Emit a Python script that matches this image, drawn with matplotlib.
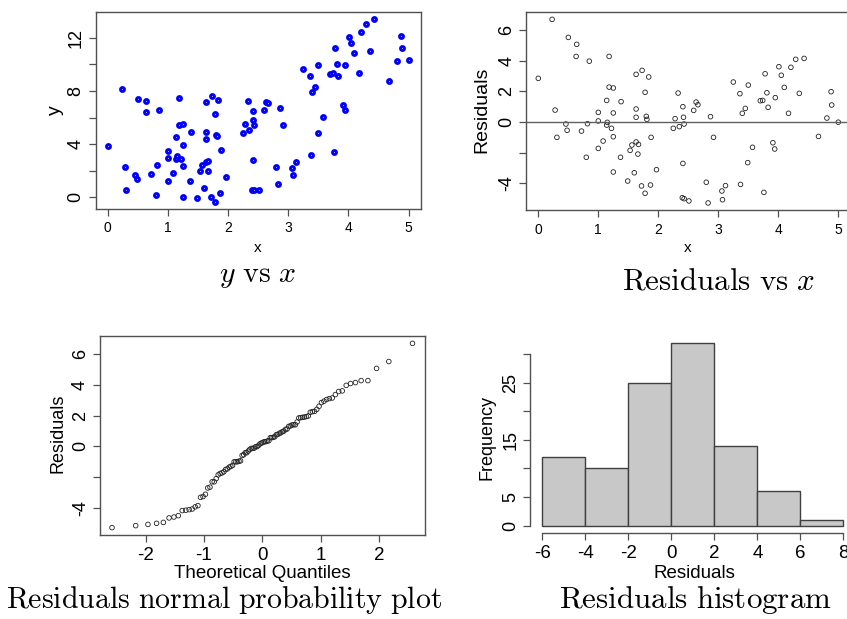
import numpy as np
import matplotlib
matplotlib.use("Agg")
import matplotlib.pyplot as plt
from statistics import NormalDist

# ---------------- data ----------------
x = [0.00, 0.23, 0.28, 0.31, 0.46, 0.48, 0.50, 0.63, 0.64, 0.72,
     0.80, 0.82, 0.85, 1.00, 1.00, 1.00, 1.08, 1.14, 1.14, 1.15,
     1.18, 1.18, 1.22, 1.25, 1.25, 1.25, 1.25, 1.37, 1.38, 1.49,
     1.53, 1.56, 1.60, 1.63, 1.63, 1.63, 1.63, 1.66, 1.67, 1.72,
     1.73, 1.78, 1.78, 1.80, 1.81, 1.84, 1.87, 1.88, 1.97, 2.25,
     2.28, 2.35, 2.33, 2.40, 2.41, 2.41, 2.42, 2.43, 2.43, 2.51,
     2.59, 2.63, 2.66, 2.80, 2.83, 2.87, 2.92, 3.06, 3.07, 3.12,
     3.25, 3.36, 3.37, 3.40, 3.45, 3.49, 3.50, 3.57, 3.70, 3.74,
     3.76, 3.78, 3.81, 3.83, 3.91, 3.94, 3.95, 4.01, 4.05, 4.10,
     4.17, 4.21, 4.29, 4.35, 4.43, 4.67, 4.81, 4.88, 4.89, 5.00]

y = [3.84, 8.13, 2.29, 0.57, 1.72, 1.35, 7.43, 6.43, 7.23, 1.75,
     0.20, 2.42, 6.58, 3.49, 2.94, 1.20, 1.85, 4.54, 2.92, 3.15,
     7.45, 5.48, 2.87, 5.53, 3.91, 2.37, 0.07, 1.27, 4.91, -0.02,
     2.02, 2.42, 0.70, 7.16, 4.91, 4.36, 2.69, 2.00, 2.72, 0.05,
     7.63, -0.32, 6.28, 4.69, 4.59, 7.35, 0.37, 3.54, 1.57, 4.81,
     5.51, 5.09, 7.26, 0.55, 6.51, 2.82, 5.83, 5.44, 0.55, 0.55,
     6.55, 7.20, 7.08, 2.29, 1.02, 6.71, 5.46, 2.22, 1.65, 2.69,
     9.67, 9.12, 3.19, 7.90, 8.33, 4.86, 9.95, 6.01, 9.27, 9.37,
     3.44, 11.22, 10.02, 9.12, 6.98, 6.58, 9.95, 12.09, 11.59, 10.87,
     9.32, 12.42, 13.06, 10.97, 13.41, 8.77, 10.22, 12.12, 11.22, 10.35]

residuals = [2.85, 6.70, 0.78, -1.00, -0.13, -0.54, 5.52, 4.28, 5.07, -0.59,
             -2.30, -0.11, 3.97, 0.63, 0.07, -1.72, -1.24, 1.41, -0.20, -0.02,
             4.28, 2.28, -0.41, 2.22, 0.59, -0.96, -3.26, -2.30, 1.33, -3.85,
             -1.85, -1.50, -3.31, 3.11, 0.85, 0.31, -1.30, -2.09, -1.46, -4.17,
             3.37, -4.65, 1.94, 0.37, 0.17, 2.94, -4.11, -1.00, -3.11, -0.41,
             0.22, -0.30, 1.89, -4.94, 1.00, -2.70, 0.31, -0.13, -5.00, -5.15,
             0.76, 1.30, 1.13, -3.93, -5.28, 0.35, -1.00, -4.50, -5.07, -4.15,
             2.61, 1.85, -4.07, 0.57, 0.89, -2.65, 2.41, -1.65, 1.39, 1.41,
             -4.59, 3.15, 1.91, 0.96, -1.35, -1.76, 1.59, 3.61, 3.05, 2.26,
             0.57, 3.57, 4.09, 1.87, 4.15, -0.94, 0.26, 1.98, 1.11, -0.01]

hist_breaks = [-6, -4, -2, 0, 2, 4, 6, 8]
hist_counts = [12, 10, 25, 32, 14, 6, 1]

# tick labels
xy_xticks = [0, 1, 2, 3, 4, 5]
xy_yticks = [0, 2, 4, 6, 8, 10, 12]
xy_ylabels = ["0", "", "4", "", "8", "", "12"]
res_ticks = [-4, -2, 0, 2, 4, 6]
res_labels = ["-4", "", "0", "2", "4", "6"]
qq_xticks = [-2, -1, 0, 1, 2]
hist_yticks = [0, 5, 10, 15, 20, 25, 30]
hist_ylabels = ["0", "5", "", "15", "", "25", ""]

# ---------------- style ----------------
plt.rcParams["font.family"] = ["Liberation Sans", "DejaVu Sans"]
plt.rcParams["mathtext.fontset"] = "cm"
plt.rcParams["axes.unicode_minus"] = False

W, H = 847, 619
fig = plt.figure(figsize=(W / 100, H / 100), dpi=100)
AXC = "#505050"


def box(l, t, r, b):
    return [l / W, 1 - b / H, (r - l) / W, (b - t) / H]


def style_axes(ax, xfs, yfs, xpad, ypad):
    for s in ax.spines.values():
        s.set_color(AXC)
        s.set_linewidth(1.0)
    ax.tick_params(axis="both", direction="out", length=5, width=0.9,
                   color=AXC, labelcolor="black")
    ax.tick_params(axis="x", labelsize=xfs, pad=xpad)
    ax.tick_params(axis="y", labelsize=yfs, pad=ypad)
    for lab in ax.get_yticklabels():
        lab.set_rotation(90)
        lab.set_va("center")
        lab.set_ha("right")


def place_labels(ax, rect_px, xlab, ylab, xpos, ypos, xfs, yfs):
    l, t, r, b = rect_px
    ax.set_xlabel(xlab, fontsize=xfs)
    ax.set_ylabel(ylab, fontsize=yfs)
    ax.xaxis.label.set_va("center")
    ax.yaxis.label.set_va("center")
    ax.xaxis.set_label_coords((xpos[0] - l) / (r - l), (b - xpos[1]) / (b - t))
    ax.yaxis.set_label_coords((ypos[0] - l) / (r - l), (b - ypos[1]) / (b - t))


# ---- panel 1: y vs x ----
r1 = (95.7, 11.7, 420.7, 209)
ax1 = fig.add_axes(box(*r1))
ax1.scatter(x, y, s=8, facecolors="white", edgecolors="#0000ff", linewidths=2.1)
ax1.margins(0.04)
ax1.set_xticks(xy_xticks, [str(v) for v in xy_xticks])
ax1.set_yticks(xy_yticks, xy_ylabels)
style_axes(ax1, 10, 13, 4, 3)
place_labels(ax1, r1, "x", "y", (258, 248), (55, 110), 11, 14)

# ---- panel 2: residuals vs x ----
r2 = (526.3, 12, 850.3, 210.3)
ax2 = fig.add_axes(box(*r2))
ax2.scatter(x, residuals, s=11, facecolors="none", edgecolors="#222222", linewidths=0.6)
ax2.axhline(0, color="#606060", lw=1.0)
ax2.margins(0.04)
ax2.set_xticks(xy_xticks, [str(v) for v in xy_xticks])
ax2.set_yticks(res_ticks, res_labels)
style_axes(ax2, 10, 13, 4, 3)
place_labels(ax2, r2, "x", "Residuals", (688, 248), (482, 110), 11, 14)

# ---- panel 3: normal probability plot ----
n = len(residuals)
probs = [(i + 0.5) / n for i in range(n)]
theo = [NormalDist().inv_cdf(p) for p in probs]
r3 = (100, 336, 424.5, 535)
ax3 = fig.add_axes(box(*r3))
ax3.scatter(theo, sorted(residuals), s=11, facecolors="none", edgecolors="#222222", linewidths=0.6)
ax3.margins(0.04)
ax3.set_xticks(qq_xticks, [str(v) for v in qq_xticks])
ax3.set_yticks(res_ticks, res_labels)
style_axes(ax3, 13.5, 13, 3.5, 3)
place_labels(ax3, r3, "Theoretical Quantiles", "Residuals", (262, 573), (58, 433), 13.5, 13)

# ---- panel 4: histogram ----
r4 = (530.3, 335.3, 855.4, 533)
ax4 = fig.add_axes(box(*r4))
ax4.bar(hist_breaks[:-1], hist_counts, width=np.diff(hist_breaks), align="edge",
        color="#c8c8c8", edgecolor="#404040", linewidth=1.0)
ax4.use_sticky_edges = False
ax4.margins(0.04)
ax4.set_xticks(hist_breaks, [str(v) for v in hist_breaks])
ax4.set_yticks(hist_yticks, hist_ylabels)
style_axes(ax4, 13.5, 13, 3.5, 3)
ax4.spines["top"].set_visible(False)
ax4.spines["right"].set_visible(False)
ax4.spines["bottom"].set_bounds(hist_breaks[0], hist_breaks[-1])
ax4.spines["left"].set_bounds(hist_yticks[0], hist_yticks[-1])
place_labels(ax4, r4, "Residuals", "Frequency", (694, 573), (487, 438), 13.5, 13)

# ---- captions (LaTeX style) ----
fig.text(258 / W, 1 - 276 / H, r"$y\ \mathrm{vs}\ x$", ha="center", va="center", fontsize=21.5)
fig.text(718 / W, 1 - 281 / H, r"$\mathrm{Residuals\ vs}\ x$", ha="center", va="center", fontsize=22.3)
fig.text(224 / W, 1 - 600 / H, r"$\mathrm{Residuals\ normal\ probability\ plot}$",
         ha="center", va="center", fontsize=21.5)
fig.text(695 / W, 1 - 600 / H, r"$\mathrm{Residuals\ histogram}$", ha="center", va="center", fontsize=22.3)

fig.savefig("out.png", dpi=100)
